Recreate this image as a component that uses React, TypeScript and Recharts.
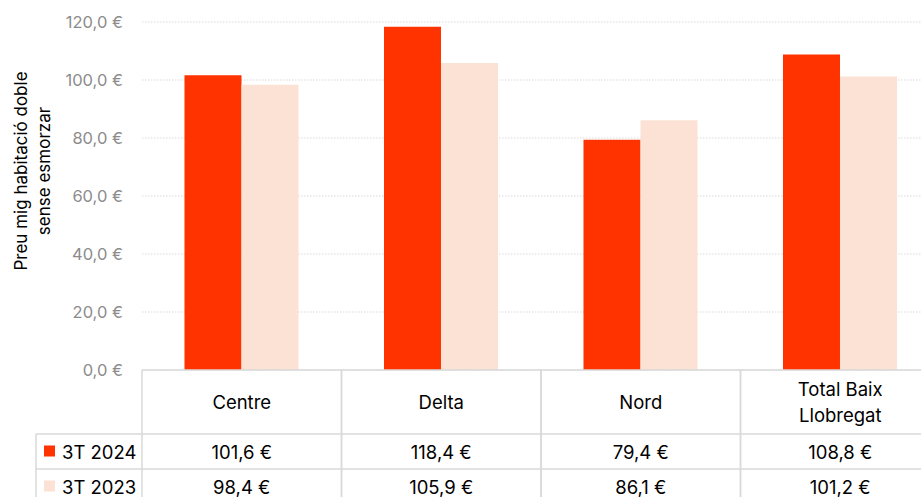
import { BarChart, Bar, XAxis, YAxis, CartesianGrid } from "recharts";

const categories = ["Centre", "Delta", "Nord", "Total Baix Llobregat"];
const headerLines = [["Centre"], ["Delta"], ["Nord"], ["Total Baix", "Llobregat"]];
const series2024 = [101.6, 118.4, 79.4, 108.8];
const series2023 = [98.4, 105.9, 86.1, 101.2];
const seriesNames = ["3T 2024", "3T 2023"];
const yTicks = [0, 20, 40, 60, 80, 100, 120];

const RED = "#FF3300";
const BEIGE = "#FBE2D5";
const BORDER = "#d9d9d9";
const FONT = "Inter, 'Noto Sans', sans-serif";
const TABLE_FS = 18.5;

const CHART_W = 940;
const AXIS_W = 142;
const BAND = (CHART_W - AXIS_W) / categories.length;
const HEAD_H = 64;
const ROW_H = 35;

const data = categories.map((name, i) => ({
  name,
  v2024: series2024[i],
  v2023: series2023[i],
}));

const euro = (v: number) => v.toFixed(1).replace(".", ",") + " €";

function TableTick(props: any) {
  const { x, y, payload, index } = props;
  const i = index ?? categories.indexOf(payload.value);
  const half = BAND / 2;
  const lines = headerLines[i];
  const rows = [series2024[i], series2023[i]];
  const colors = [RED, BEIGE];
  const bottom = y + HEAD_H + ROW_H * 2 + 10;
  return (
    <g>
      <line x1={x - half} x2={x - half} y1={y} y2={bottom} stroke={BORDER} strokeWidth={1.5} />
      <line x1={x + half} x2={x + half} y1={y} y2={bottom} stroke={BORDER} strokeWidth={1.5} />
      <line x1={x - half} x2={x + half} y1={y + HEAD_H} y2={y + HEAD_H} stroke={BORDER} strokeWidth={1.5} />
      <line x1={x - half} x2={x + half} y1={y + HEAD_H + ROW_H} y2={y + HEAD_H + ROW_H} stroke={BORDER} strokeWidth={1.5} />
      {lines.map((t, k) => (
        <text
          key={k}
          x={x}
          y={y + HEAD_H / 2 + (k - (lines.length - 1) / 2) * 26}
          textAnchor="middle"
          dominantBaseline="central"
          fontSize={TABLE_FS}
          fill="#000"
          fontFamily={FONT}
        >
          {t}
        </text>
      ))}
      {rows.map((v, k) => (
        <text
          key={k}
          x={x}
          y={y + HEAD_H + ROW_H * k + ROW_H / 2}
          textAnchor="middle"
          dominantBaseline="central"
          fontSize={TABLE_FS}
          fill="#000"
          fontFamily={FONT}
        >
          {euro(v)}
        </text>
      ))}
      {i === 0 && (
        <g>
          <line x1={36} x2={36} y1={y + HEAD_H} y2={bottom} stroke={BORDER} strokeWidth={1.5} />
          <line x1={36} x2={x - half} y1={y + HEAD_H} y2={y + HEAD_H} stroke={BORDER} strokeWidth={1.5} />
          <line x1={36} x2={x - half} y1={y + HEAD_H + ROW_H} y2={y + HEAD_H + ROW_H} stroke={BORDER} strokeWidth={1.5} />
          {seriesNames.map((s, k) => (
            <g key={s}>
              <rect x={44} y={y + HEAD_H + ROW_H * k + ROW_H / 2 - 6} width={11} height={11} fill={colors[k]} />
              <text
                x={62}
                y={y + HEAD_H + ROW_H * k + ROW_H / 2}
                dominantBaseline="central"
                fontSize={TABLE_FS}
                fill="#000"
                fontFamily={FONT}
              >
                {s}
              </text>
            </g>
          ))}
        </g>
      )}
    </g>
  );
}

function YLabel(props: any) {
  const vb = props.viewBox || { x: 0, y: 22, width: AXIS_W, height: 348 };
  const cy = vb.y + vb.height / 2 - 25;
  return (
    <g>
      {["Preu mig habitació doble", "sense esmorzar"].map((t, k) => (
        <text
          key={k}
          x={0}
          y={0}
          transform={`translate(${27 + k * 23}, ${cy}) rotate(-90)`}
          textAnchor="middle"
          fontSize={17}
          fill="#000"
          fontFamily={FONT}
        >
          {t}
        </text>
      ))}
    </g>
  );
}

export default function App() {
  return (
    <div
      style={{
        position: "absolute",
        left: 0,
        top: 0,
        width: 921,
        height: 497,
        overflow: "hidden",
        background: "#fff",
      }}
    >
      <BarChart
        width={CHART_W}
        height={520}
        data={data}
        margin={{ top: 22, right: 0, bottom: 0, left: 0 }}
        barCategoryGap="21.3%"
        barGap={0}
      >
        <CartesianGrid vertical={false} stroke={BORDER} strokeDasharray="1.5 1.5" />
        <YAxis
          width={AXIS_W}
          domain={[0, 120]}
          ticks={yTicks}
          interval={0}
          axisLine={false}
          tickLine={false}
          tickMargin={13}
          tickFormatter={euro}
          tick={{ fontSize: 16.5, fill: "#8c8c8c", fontFamily: FONT }}
          label={<YLabel />}
        />
        <XAxis
          dataKey="name"
          height={150}
          interval={0}
          axisLine={{ stroke: BORDER, strokeWidth: 1.5 }}
          tickLine={false}
          tickSize={0}
          tickMargin={0}
          tick={<TableTick />}
        />
        <Bar dataKey="v2024" fill={RED} isAnimationActive={false} />
        <Bar dataKey="v2023" fill={BEIGE} isAnimationActive={false} />
      </BarChart>
    </div>
  );
}
